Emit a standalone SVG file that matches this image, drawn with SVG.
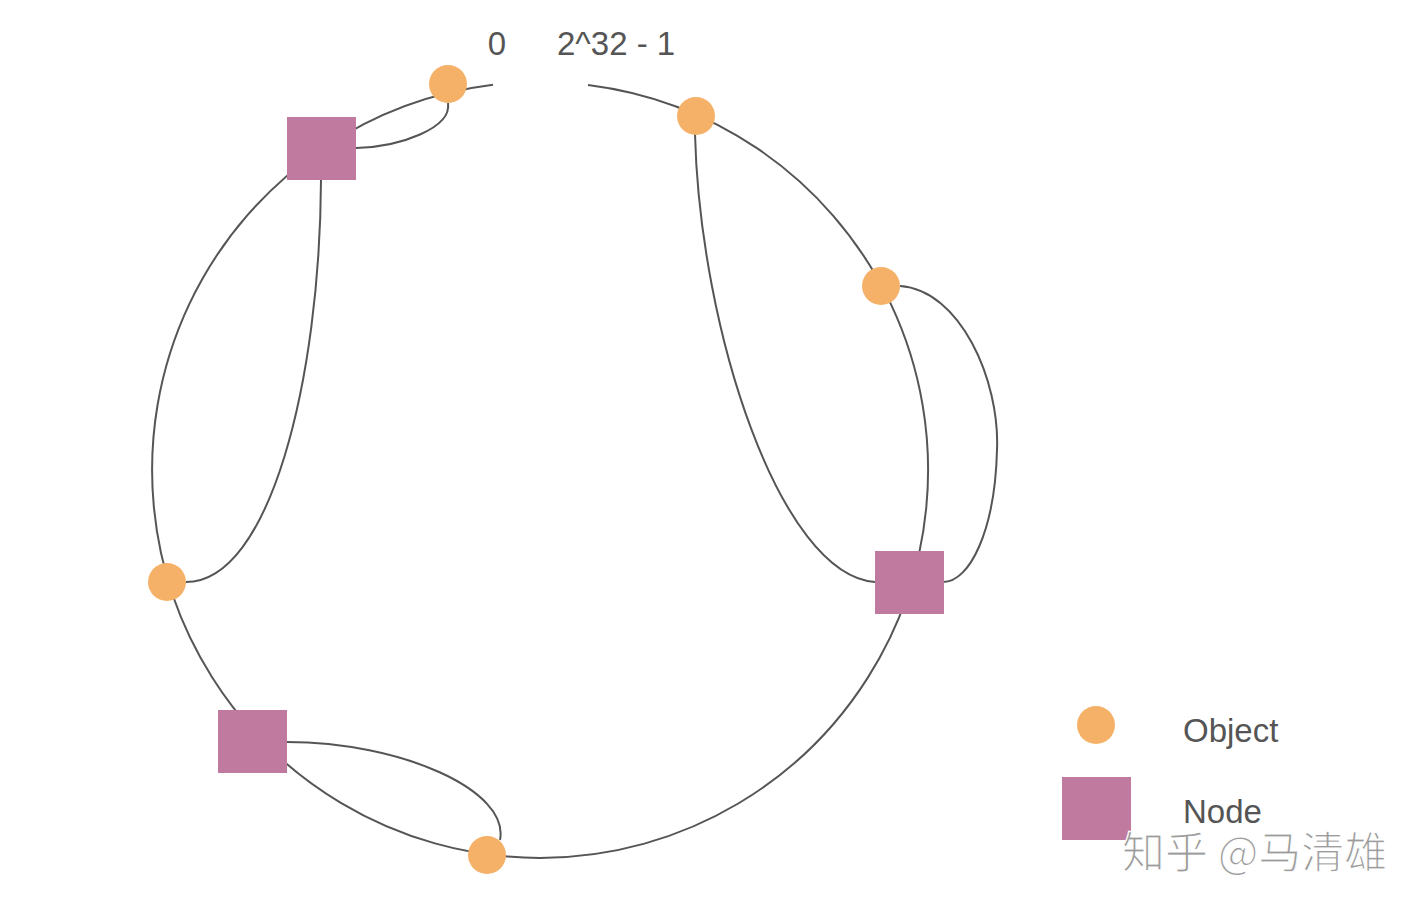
<svg xmlns="http://www.w3.org/2000/svg" width="1424" height="908" viewBox="0 0 1424 908">
<style>
.lnk{fill:none;stroke:#555;stroke-width:2}
.obj{fill:#F5B168}
.node{fill:#C07AA0}
.lbl{font-family:"Liberation Sans",Arial,sans-serif;font-size:33px;fill:#555}
.wm{font-family:"Noto Sans CJK SC",sans-serif;font-size:43px;fill:#9c9c9c;stroke:#fff;stroke-width:1.2}
</style>
<rect width="1424" height="908" fill="#fff"/>
<g id="connectors">
<path id="ring" class="lnk" d="M588,84.9 A388,388 0 1 1 493,84.8"/>
<path class="lnk" d="M356,148 C400,147 452,128 448,103"/>
<path class="lnk" d="M321,180 C320,380 270,582 186,582"/>
<path class="lnk" d="M695,134 C700,330 780,575 875,582"/>
<path class="lnk" d="M900,286 C960,290 1000,380 997,450 C995,530 970,582 943,582"/>
<path class="lnk" d="M287,742 C400,742 510,790 500,840"/>
</g>
<g id="obj1"><circle class="obj" cx="448" cy="84" r="19"/></g>
<g id="obj2"><circle class="obj" cx="696" cy="116" r="19"/></g>
<g id="obj3"><circle class="obj" cx="881" cy="286" r="19"/></g>
<g id="obj4"><circle class="obj" cx="167" cy="582" r="19"/></g>
<g id="obj5"><circle class="obj" cx="487" cy="855" r="19"/></g>
<g id="node1"><rect class="node" x="287" y="117" width="69" height="63"/></g>
<g id="node2"><rect class="node" x="875" y="551" width="69" height="63"/></g>
<g id="node3"><rect class="node" x="218" y="710" width="69" height="63"/></g>
<g id="labels">
<text class="lbl" x="497" y="55" text-anchor="middle">0</text>
<text class="lbl" x="557" y="55">2^32 - 1</text>
</g>
<g id="legend">
<circle class="obj" cx="1096" cy="725" r="19"/>
<text class="lbl" x="1183" y="742">Object</text>
<rect class="node" x="1062" y="777" width="69" height="63"/>
<text class="lbl" x="1183" y="823">Node</text>
</g>
<text class="wm" x="1122" y="868">知乎 @马清雄</text>
</svg>
